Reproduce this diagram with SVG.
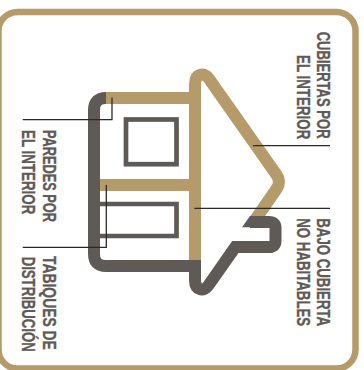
<svg xmlns="http://www.w3.org/2000/svg" width="364" height="370" viewBox="0 0 364 370">
<style>
.t{fill:none;stroke:#b59a6a;stroke-width:12}
.g{fill:none;stroke:#5f5a55;stroke-width:12}
.w{fill:none;stroke:#5f5a55;stroke-width:4.7}
.c{fill:none;stroke:#2b2a2a;stroke-width:1.3}
text{font-family:"Liberation Sans",Arial,sans-serif;font-weight:700;font-size:18.4px;fill:#5f5a55;stroke:#5f5a55;stroke-width:.35}
</style>
<rect width="364" height="370" fill="#fff"/>
<rect id="frame" x="-1.5" y="12" width="357" height="356.5" rx="19" fill="none" stroke="#b59a6a" stroke-width="6.5"/>
<g id="house">
<path class="t" d="M106 98H190M100 185H190M195 260V84C195 73 204 72 208.800 78.500L276 174Q281.600 181.600 276.500 189L255 220"/>
<path class="g" d="M106 98C98 98 94 102 94 110V254C94 262 98 266 106 266H195V280C195 291 204 292 208.700 285L235.300 247H269Q275.500 247 275.500 241V228Q275.500 222 269 222H250"/>
<polygon points="242,227.300 250,216 256,216 256,227.300" fill="#5f5a55"/>
<rect class="w" x="126" y="119.500" width="50.500" height="44.700"/>
<path class="w" d="M98 204H176.500V236H98"/>
</g>
<g id="connectors">
<path class="c" d="M22.700 119.700H112V97.500"/>
<path class="c" d="M22.700 247.300H106.300V185"/>
<path class="c" d="M253 145.700H330"/>
<path class="c" d="M194.300 208.300H330"/>
</g>
<g id="label-cubiertas">
<text transform="translate(317,31.700) rotate(90) scale(.708,1)">CUBIERTAS POR</text>
<text transform="translate(297,55) rotate(90) scale(.726,1)">EL INTERIOR</text>
</g>
<g id="label-paredes">
<text transform="translate(42.700,130) rotate(90) scale(.694,1)">PAREDES POR</text>
<text transform="translate(22.300,130) rotate(90) scale(.726,1)">EL INTERIOR</text>
</g>
<g id="label-tabiques">
<text transform="translate(42.700,256) rotate(90) scale(.755,1)">TABIQUES DE</text>
<text transform="translate(22.300,256.700) rotate(90) scale(.715,1)">DISTRIBUCIÓN</text>
</g>
<g id="label-bajo">
<text transform="translate(317,218.300) rotate(90) scale(.72,1)">BAJO CUBIERTA</text>
<text transform="translate(297,218.300) rotate(90) scale(.72,1)">NO HABITABLES</text>
</g>
</svg>
